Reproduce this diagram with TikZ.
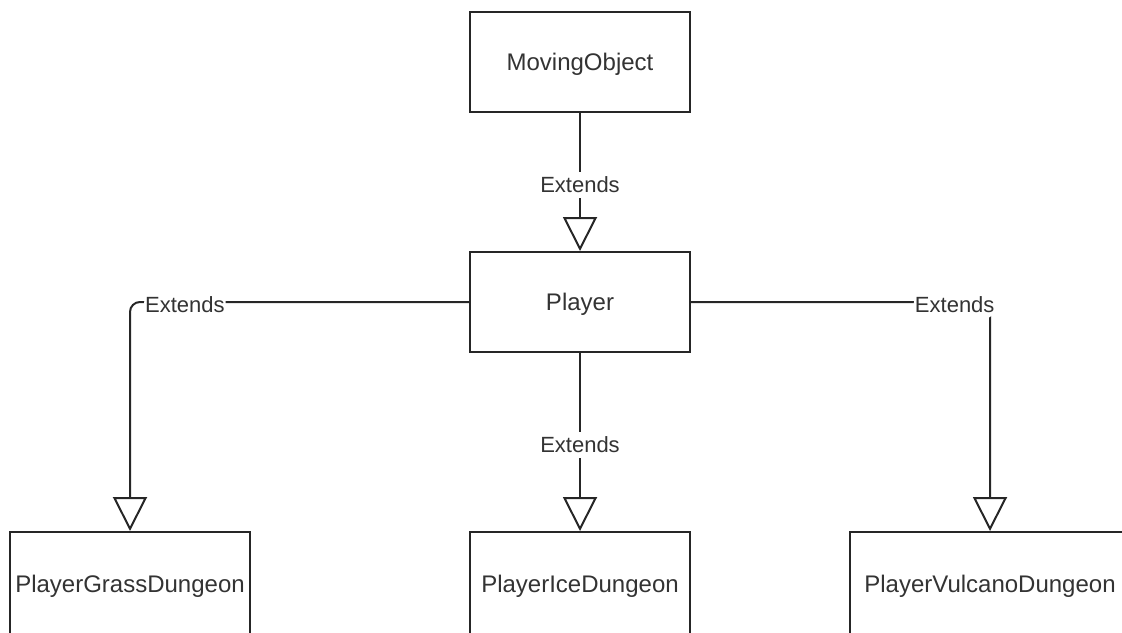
\documentclass[tikz,border=0pt]{standalone}
\usepackage{fontspec}
\setmainfont{Liberation Sans}
\usetikzlibrary{arrows.meta}
\begin{document}
\begin{tikzpicture}[x=1pt,y=-1pt, line width=2pt,
 cls/.style={draw=black!85, minimum width=220pt, minimum height=100pt, inner sep=0pt, text height=22pt, text depth=5pt, font=\fontsize{24}{28}\selectfont, text=black!80},
 ext/.style={-{Triangle[open,length=34pt,width=34pt]}, draw=black!85},
 lbl/.style={fill=white, inner xsep=1pt, inner ysep=5pt, yshift=-3pt, font=\fontsize{22}{26}\selectfont, text=black!80}]
\useasboundingbox (0,0) rectangle (1122,632);
\node[cls] (mo) at (580,62) {MovingObject};
\node[cls] (pl) at (580,302) {Player};
\node[cls, minimum width=240pt, minimum height=104pt] (gd) at (130,584) {PlayerGrassDungeon};
\node[cls, minimum height=104pt] (id) at (580,584) {PlayerIceDungeon};
\node[cls, minimum width=280pt, minimum height=104pt] (vd) at (990,584) {PlayerVulcanoDungeon};
\draw[ext] (mo) -- node[lbl]{Extends} (pl);
\draw[ext] (pl) -- node[lbl]{Extends} (id);
\draw[ext, rounded corners=10pt] (pl.west) -- node[lbl, pos=0.838]{Extends} (gd.north |- pl.west) -- (gd.north);
\draw[ext, rounded corners=10pt] (pl.east) -- node[lbl, pos=0.882]{Extends} (vd.north |- pl.east) -- (vd.north);
\end{tikzpicture}
\end{document}
